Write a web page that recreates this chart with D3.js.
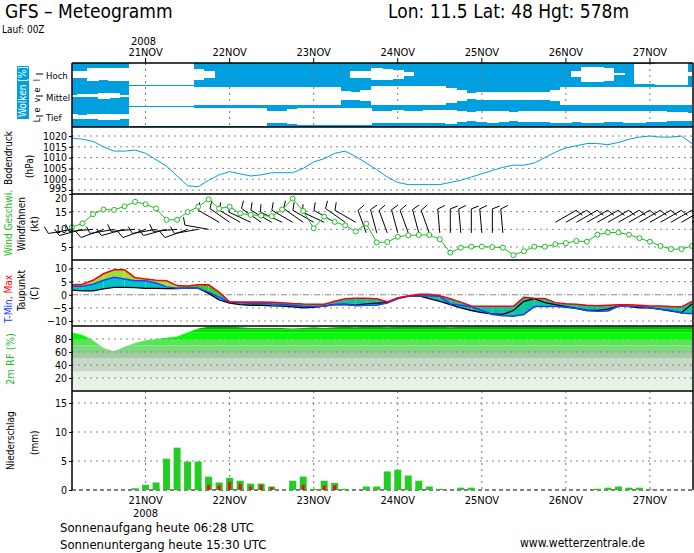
<!DOCTYPE html>
<html><head><meta charset="utf-8">
<script src="https://cdn.jsdelivr.net/npm/d3@7"></script>
<style>body{margin:0;background:#fff}svg{display:block}text{font-family:"DejaVu Sans Condensed","DejaVu Sans",sans-serif}</style>
</head><body><svg id="c" width="694" height="553"></svg>
<script>
// hours relative to 21NOV 00Z, 3-hourly
const hours = d3.range(60).map(i => -21 + 3*i);
const dayTicks = [0,24,48,72,96,120,144];
const dayLabels = ["21NOV","22NOV","23NOV","24NOV","25NOV","26NOV","27NOV"];
const cloudHigh = [.7,.7,.4,.45,.4,.4,0,0,0,0,0,0,.5,.7,1,1,1,1,1,1,1,1,1,1,1,1,1,.7,.7,.45,.5,.6,.8,1,1,1,1,1,1,1,1,1,1,1,1,1,1,1,.75,.3,.3,.4,.9,1,.1,.1,0,0,0,.8];
const cloudMid = [.9,.85,.85,.7,.75,.9,.05,.05,.05,.05,.05,.05,.15,.15,.15,.15,.15,.15,.15,.15,.15,.15,.15,.15,.15,.15,.55,.6,.5,.1,.1,.1,.1,.1,.1,.1,.3,.5,.7,.6,.6,.6,.6,.6,.6,.6,.5,.15,.15,.15,.15,.15,.15,.15,.15,.15,.15,.15,.15,.15];
const cloudLow = [.75,.8,.75,.7,.7,.75,.1,.1,.1,.1,.1,.1,.15,.15,.15,.15,.15,.15,.15,.45,.45,.3,.2,.2,.2,.2,.2,.2,.2,.45,.45,.4,.45,.45,.4,.4,.35,.5,.55,.5,.45,.5,.55,.5,.5,.5,.45,.45,.5,.45,.45,.5,.5,.45,.45,.5,.5,.55,.55,.6];
const pressure = [1019,1018.5,1017.5,1015,1013,1013,1013.5,1012,1009,1006,1001.5,997,996.5,999.5,1002,1003.5,1002.5,1001.5,1002,1003,1003,1003,1005,1008,1009.5,1012,1013,1010.5,1007.5,1004.5,1001,998.5,997.5,997.5,997.5,997.5,998.5,999.5,1001,1002.5,1004,1005.5,1006.5,1006.5,1007.5,1010,1012.5,1014.5,1015.5,1016.5,1016.5,1016,1017,1018.5,1019.5,1020,1019.5,1019.5,1020,1016.5];
const gust = [10.6,11.7,14.3,15.6,15.5,16.5,17.8,17.1,15.9,12.7,12.7,14.9,16.4,18.5,15.9,16.4,14.5,14.1,13.9,13.7,15.6,18.7,15.2,10.3,13.6,12.1,11.1,9.4,11.6,6.3,6.4,7.9,8.3,8.4,8.4,7.2,3.4,4.8,5.1,5.1,5.0,4.8,2.7,3.8,5.1,5.1,5.8,6.1,6.7,6.5,8.5,9.1,9.1,8.5,7.5,6.5,5.3,4.4,4.4,5.3];
const windSpd = [10,10,10,10,10,10,10,10,10,10,10,10,10,10,12,12,12,12,12,12,12,12,12,12,12,12,12,12,9,9,9,9,9,9,9,9,9,9,9,9,9,9,0,0,0,0,12,12,12,12,12,12,12,12,12,12,12,12,12,12];
const windDir = [260,255,265,250,260,255,265,250,260,255,265,250,260,280,300,305,300,295,305,300,295,300,305,300,295,300,305,300,340,345,340,345,340,345,340,355,0,355,0,355,0,355,0,0,0,0,60,60,60,60,60,60,60,60,60,60,60,60,60,60];
const tMax = [3.8,4,5.5,8,9.5,9.5,6.5,6,5.5,5.3,3.5,3.3,3.8,3.8,1,-2.7,-2.8,-2.8,-2.8,-2.9,-3,-3.3,-3.5,-3.6,-3.6,-2.5,-1.5,-1.3,-1.3,-1.5,-2.7,-1.2,-0.5,0.2,0.2,-0.4,-1.5,-2.8,-4.3,-4.4,-4.4,-4.4,-4.4,-1,-1.3,-1.4,-3,-3.4,-3.6,-4,-4.2,-4,-3.8,-3.8,-4,-4.3,-4.3,-4.5,-4.6,-2.5];
const tMin = [3.2,3.2,4,5.5,6.7,6,5.3,5.3,4.5,3,2.5,2.5,2.5,1,-1,-2.9,-3,-3.2,-3.2,-3.5,-3.6,-4,-4.5,-4.5,-4.4,-3.6,-3.5,-4.2,-4,-4,-3.2,-1.5,-0.6,-0.4,-0.5,-0.6,-3.5,-4,-4.6,-6,-7.5,-8,-8.2,-7.5,-4.5,-4.5,-4.5,-4.8,-5.2,-6,-6.3,-6.2,-4.4,-4.4,-4.5,-5,-5.5,-6,-7,-7.2];
const dewPt = [1.8,1.5,1.5,2.2,2.8,2.8,2.7,2.4,2.4,2.3,2.3,2.5,2.5,0.5,-2,-3.2,-3.8,-4,-4,-4.2,-4.3,-4.6,-5,-4.8,-4.3,-3.8,-3.8,-4,-3.5,-3.2,-3,-1.2,-0.5,-0.4,-1.5,-2.5,-3.8,-5,-6,-6.8,-7.3,-7.5,-6,-2.5,-1.5,-3,-3.8,-4.5,-5.2,-6,-6,-5.5,-4.3,-4.5,-5,-5,-5.6,-6.2,-6.8,-3.5];
const rh = [90,86,78,66,61,68,74,78,80,82,84,90,96,99,99,99,98,97,97,97,97,96,97,98,97,98,99,98,99,99,98,99,99,99,99,99,98,99,99,99,99,99,99,99,99,99,99,99,99,99,99,99,99,99,99,99,99,99,99,99];
const precip = [0,0,0,0,0,0,0.3,0.9,1.3,5.4,7.3,4.9,4.9,2.3,1.3,2.1,1.6,1.1,1.1,0.6,0,1.6,2.3,0.2,1.6,1.2,0.2,0,0.6,0.6,3.2,3.5,2.5,1.6,0.6,0.2,0,0.4,0.4,0,0,0,0,0,0,0,0,0,0,0,0.2,0.4,0.6,0.4,0.4,0.1,0,0,0,0];
const snow = [0,0,0,0,0,0,0,0,0,0,0,0,0,0.9,0.8,1.4,1.1,0.6,0.9,0.5,0,0,0.9,0,0.8,0.8,0,0,0,0,0,0,0,0,0,0,0,0,0,0,0,0,0,0,0,0,0,0,0,0,0,0,0,0,0,0,0,0,0,0];
const pTicks=[995,1000,1005,1010,1015,1020], wTicks=[5,10,15,20], tTicks=[-10,-5,0,5,10], rTicks=[20,40,60,80], nTicks=[0,5,10,15];
const rhBands=[[0,30,"#e8f3e8"],[30,50,"#c9d9c9"],[50,60,"#a4c9a4"],[60,70,"#80d880"],[70,80,"#55e855"],[80,90,"#00ff00"],[90,95,"#00dc00"],[95,100,"#00b400"]];

const svg=d3.select("#c");
const L=72,R=692;
const x=d3.scaleLinear().domain([-21,156]).range([L,R]);
const yP=d3.scaleLinear().domain([995,1020]).range([190,136]);
const yW=d3.scaleLinear().domain([5,20]).range([247,194]);
const yT=d3.scaleLinear().domain([-10,10]).range([321,268.5]);
const yR=d3.scaleLinear().domain([0,100]).range([391,326]);
const yN=d3.scaleLinear().domain([0,15]).range([490,403]);
const blue="#00a0e0";
function txt(s,xx,yy,o={}){const t=svg.append("text").attr("x",xx).attr("y",yy).text(s).attr("font-size",o.fs||11).attr("fill",o.fill||"#000");if(o.anchor)t.attr("text-anchor",o.anchor);if(o.rot)t.attr("transform",`rotate(-90,${xx},${yy})`);return t;}
function hgrid(scale,ticks,zeroDash){ticks.forEach(v=>{svg.append("line").attr("x1",L).attr("x2",R).attr("y1",scale(v)).attr("y2",scale(v)).attr("stroke","#888").attr("stroke-dasharray",v===0&&zeroDash?"6,2,1,2":"2,4");});}
function yaxis(scale,ticks,dy){const g=svg.append("g").attr("transform",`translate(${L},0)`).call(d3.axisLeft(scale).tickValues(ticks).tickSize(3).tickPadding(2).tickFormat(d3.format("d")));g.select(".domain").remove();g.selectAll("text").attr("font-size",10.5).attr("font-family","DejaVu Sans Condensed");if(dy)g.selectAll("text").attr("dy",(d,i)=>dy(d));}
// clouds
const cg=svg.append("g").attr("shape-rendering","crispEdges");
const bands=[[cloudHigh,63,85],[cloudMid,85,106],[cloudLow,106,127]];
cg.append("rect").attr("x",L).attr("y",63).attr("width",R-L).attr("height",64).attr("fill",blue);
bands.forEach(([arr,t0,t1])=>{const h=t1-t0,c=(t0+t1)/2;arr.forEach((v,i)=>{const hh=Math.round((1-v)*h);if(hh<=0)return;cg.append("rect").attr("x",Math.floor(x(hours[i])-5.3)).attr("width",12).attr("y",Math.round(c-hh/2)).attr("height",hh).attr("fill","#fff");});});
dayTicks.forEach(d=>{svg.append("line").attr("x1",x(d)).attr("x2",x(d)).attr("y1",63).attr("y2",127).attr("stroke","#777").attr("stroke-dasharray","2,4");
 svg.append("line").attr("x1",x(d)).attr("x2",x(d)).attr("y1",391).attr("y2",490).attr("stroke","#777").attr("stroke-dasharray","2,4");});
// pressure
hgrid(yP,pTicks);yaxis(yP,pTicks,d=>d===995?"0.15em":"0.32em");
svg.append("path").datum(pressure).attr("fill","none").attr("stroke",blue).attr("d",d3.line().x((d,i)=>x(hours[i])).y(d=>yP(d)));
// wind
hgrid(yW,wTicks);yaxis(yW,wTicks,d=>d===20?"0.75em":"0.32em");
windSpd.forEach((s,i)=>{if(!s)return;const a=windDir[i]*Math.PI/180,x0=x(hours[i]),y0=yW(s),Ls=24;
 const ux=Math.sin(a),uy=-Math.cos(a),x1=x0+ux*Ls,y1=y0+uy*Ls;
 const g=svg.append("g").attr("stroke","#000").attr("stroke-width",1);
 g.append("line").attr("x1",x0).attr("y1",y0).attr("x2",x1).attr("y2",y1);
 let n=Math.round(s/5),pos=0;const px=Math.sin(a+Math.PI/2.6),py=-Math.cos(a+Math.PI/2.6);
 while(n>0){const bx=x1-ux*pos,by=y1-uy*pos,fl=n>=2?8:4;g.append("line").attr("x1",bx).attr("y1",by).attr("x2",bx+px*fl).attr("y2",by+py*fl);n-=2;pos+=4;}});
svg.append("path").datum(gust).attr("fill","none").attr("stroke","#22bb22").attr("d",d3.line().x((d,i)=>x(hours[i])).y(d=>yW(d)));
svg.selectAll(".gc").data(gust).enter().append("circle").attr("cx",(d,i)=>x(hours[i])).attr("cy",d=>yW(d)).attr("r",2.5).attr("fill","#fff").attr("stroke","#22bb22");
// temperature
hgrid(yT,tTicks,true);yaxis(yT,tTicks);
for(let i=0;i<59;i++){const m=(tMax[i]+tMax[i+1])/2;
 svg.append("path").attr("d",d3.area().x(j=>x(hours[j])).y0(j=>yT(tMin[j])).y1(j=>yT(tMax[j]))([i,i+1])).attr("fill",m>4?"#9be03a":m>0?"#30cc40":"#10c0a0");
 svg.append("path").attr("d",d3.area().x(j=>x(hours[j])).y0(j=>yT(Math.min(tMin[j],dewPt[j]))).y1(j=>yT(tMin[j]))([i,i+1])).attr("fill","#00c0c8");}
const tl=d3.line().x((d,i)=>x(hours[i])).y(d=>yT(d));
svg.append("path").datum(dewPt).attr("fill","none").attr("stroke","#000").attr("stroke-width",1.3).attr("d",tl);
svg.append("path").datum(tMin).attr("fill","none").attr("stroke","#2040ff").attr("stroke-width",1.5).attr("d",tl);
svg.append("path").datum(tMax).attr("fill","none").attr("stroke","#ff0000").attr("stroke-width",1.5).attr("d",tl);
// RH
const defs=svg.append("defs");
defs.append("clipPath").attr("id","rhc").append("path").attr("d",d3.area().x((d,i)=>x(hours[i])).y0(391).y1(d=>yR(d))(rh));
const rg=svg.append("g").attr("clip-path","url(#rhc)");
rhBands.forEach(([a,b,c])=>rg.append("rect").attr("x",L).attr("width",R-L).attr("y",yR(b)).attr("height",yR(a)-yR(b)).attr("fill",c));
hgrid(yR,rTicks);yaxis(yR,rTicks);
// precip
hgrid(yN,nTicks.filter(v=>v>0));yaxis(yN,nTicks);
svg.append("line").attr("x1",L).attr("x2",R).attr("y1",490).attr("y2",490).attr("stroke","#000").attr("stroke-dasharray","4,3");
precip.forEach((v,i)=>{if(v>0)svg.append("rect").attr("x",x(hours[i])-3.5).attr("width",7).attr("y",yN(v)).attr("height",yN(0)-yN(v)).attr("fill","#22cc22");});
snow.forEach((v,i)=>{if(v>0)svg.append("rect").attr("x",x(hours[i])-1.5).attr("width",3).attr("y",yN(v)).attr("height",yN(0)-yN(v)).attr("fill","#ee1111");});
// panel borders
[63,127,194,260,326,391].forEach(y=>svg.append("line").attr("x1",L).attr("x2",R+1).attr("y1",y).attr("y2",y).attr("stroke","#000").attr("stroke-width",1.5));
svg.append("line").attr("x1",L).attr("x2",L).attr("y1",63).attr("y2",490).attr("stroke","#000").attr("stroke-width",1.5);
svg.append("line").attr("x1",R+1).attr("x2",R+1).attr("y1",63).attr("y2",490).attr("stroke","#000").attr("stroke-width",1.5);
// day labels
dayTicks.forEach((d,k)=>{svg.append("line").attr("x1",x(d)).attr("x2",x(d)).attr("y1",58).attr("y2",63).attr("stroke","#000");
 txt(dayLabels[k],x(d),56,{anchor:"middle"});txt(dayLabels[k],x(d),504,{anchor:"middle"});});
txt("2008",x(0)-2,45,{anchor:"middle"});txt("2008",x(0),517,{anchor:"middle"});
// titles
txt("GFS \u2013 Meteogramm",5,18,{fs:19});
txt("Lon: 11.5 Lat: 48 Hgt: 578m",388,18,{fs:19});
txt("Lauf: 00Z",2,33,{fs:10});
txt("Sonnenaufgang heute 06:28 UTC",60,532,{fs:13});
txt("Sonnenuntergang heute 15:30 UTC",60,549,{fs:13});
txt("www.wetterzentrale.de",520,547,{fs:12});
// cloud labels
svg.append("rect").attr("x",17).attr("y",66).attr("width",12).attr("height",53).attr("fill",blue);
txt("Wolken [%]",26,117,{fs:10,fill:"#fff",rot:true});
["L","e","v","e","l"].forEach((c,k)=>txt(c,40,120-k*10,{fs:9,anchor:"middle",rot:true}));
[["Hoch",79],["Mittel",101],["Tief",121]].forEach(([s,yy])=>{txt(s,46,yy,{fs:9.5});svg.append("line").attr("x1",36).attr("x2",43).attr("y1",yy-5).attr("y2",yy-5).attr("stroke","#000");});
txt("Bodendruck",12,185,{fs:10,rot:true});txt("(hPa)",33,178,{fs:10,rot:true});
txt("Wind Geschwi.",12,256,{fs:10,fill:"#22bb22",rot:true});txt("Windfahnen",25,251,{fs:10,rot:true});txt("(kt)",38,232,{fs:10,rot:true});
const tm=svg.append("text").attr("x",12).attr("y",323).attr("font-size",10).attr("transform","rotate(-90,12,323)");
tm.append("tspan").text("T-Min, ").attr("fill","#2040ff");tm.append("tspan").text("Max").attr("fill","#ff0000");
txt("Taupunkt",25,311,{fs:10,rot:true});txt("(C)",38,300,{fs:10,rot:true});
txt("2m RF (%)",14,385,{fs:11,fill:"#22bb22",rot:true});
txt("Niederschlag",14,470,{fs:10,rot:true});txt("(mm)",38,455,{fs:10,rot:true});
</script></body></html>
